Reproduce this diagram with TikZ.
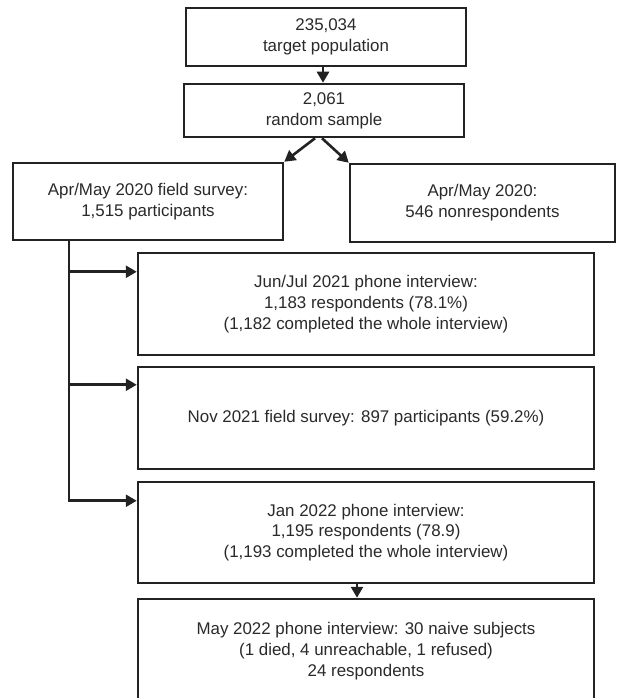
\documentclass[tikz,border=0pt]{standalone}
\usepackage{fontspec}
\setmainfont{Liberation Sans}
\usetikzlibrary{arrows.meta}
\definecolor{ink}{HTML}{222222}
\definecolor{txt}{HTML}{2A2A2A}
\begin{document}
\begin{tikzpicture}[x=1pt,y=-1pt,
  box/.style={draw=ink, line width=2.5pt, fill=white, inner sep=0pt, align=center,
    text=txt, font=\fontsize{16.9}{20.8}\selectfont},
  conn/.style={draw=ink, line width=2.6pt, -{Triangle[length=11pt,width=12pt]}}]
\useasboundingbox (0,0) rectangle (623,698);
\clip (0,0) rectangle (623,698);
\node[box, minimum width=280pt, minimum height=58pt] (A) at (326,37) {235,034\\target population};
\node[box, minimum width=280pt, minimum height=53pt] (B) at (324,110.5) {2,061\\random sample};
\node[box, minimum width=270pt, minimum height=77pt] (C) at (148,201.5) {Apr/May 2020 field survey:\\1,515 participants};
\node[box, minimum width=265pt, minimum height=78pt] (D) at (482.5,203) {Apr/May 2020:\\546 nonrespondents};
\node[box, minimum width=456pt, minimum height=102pt] (E) at (366,304) {Jun/Jul 2021 phone interview:\\1,183 respondents (78.1\%)\\(1,182 completed the whole interview)};
\node[box, minimum width=456pt, minimum height=102pt] (F) at (366,418) {Nov 2021 field survey: 897 participants (59.2\%)};
\node[box, minimum width=456pt, minimum height=101pt] (G) at (366,532.5) {Jan 2022 phone interview:\\1,195 respondents (78.9)\\(1,193 completed the whole interview)};
\node[box, minimum width=456pt, minimum height=104pt] (H) at (366,651) {May 2022 phone interview: 30 naive subjects\\(1 died, 4 unreachable, 1 refused)\\24 respondents};
\coordinate (tr) at (69,0);
\coordinate (gh) at (357,0);
\draw[conn] ([xshift=-3pt]A.south) -- ([xshift=-1pt]B.north);
\draw[conn] ([xshift=-9pt]B.south) -- (C.north east);
\draw[conn] ([xshift=-2pt]B.south) -- (D.north west);
\draw[conn] (C.south -| tr) |- ([yshift=-20pt]G.north west);
\draw[conn] ([yshift=-20pt]E.north west -| tr) -- ([yshift=-20pt]E.north west);
\draw[conn] ([yshift=-19pt]F.north west -| tr) -- ([yshift=-19pt]F.north west);
\draw[conn] (G.south -| gh) -- (H.north -| gh);
\end{tikzpicture}
\end{document}
